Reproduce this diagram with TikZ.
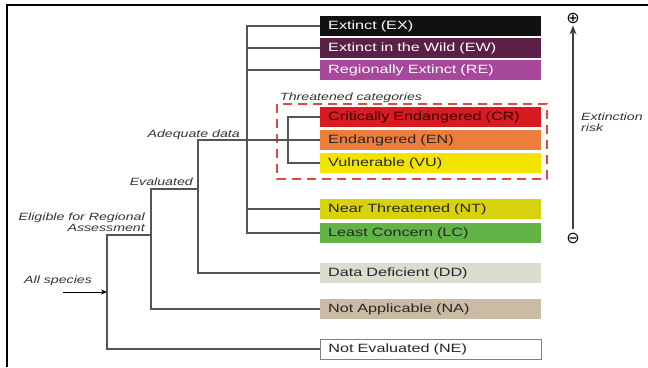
\documentclass[tikz,border=0pt]{standalone}
\usepackage{fontspec}
\setmainfont[FakeStretch=1.35]{Liberation Sans}
\newfontfamily\symfont{DejaVu Sans}
\usetikzlibrary{positioning,arrows.meta}

\definecolor{cEX}{HTML}{111111}
\definecolor{cEW}{HTML}{5B1F48}
\definecolor{cRE}{HTML}{A8489C}
\definecolor{cCR}{HTML}{D81A21}
\definecolor{cEN}{HTML}{EC7D3A}
\definecolor{cVU}{HTML}{F3E400}
\definecolor{cNT}{HTML}{D8D20C}
\definecolor{cLC}{HTML}{63B446}
\definecolor{cDD}{HTML}{DCDCD0}
\definecolor{cNA}{HTML}{CBBBA5}
\definecolor{linegrey}{HTML}{555555}
\definecolor{thrred}{HTML}{E8463C}

\begin{document}
\begin{tikzpicture}[x=1pt,y=-1pt,
cat/.style={anchor=west, minimum height=20pt, text width=205pt, inner xsep=8pt,
    inner ysep=0pt, align=left, text=black!85, font=\fontsize{12}{12}\selectfont},
tree/.style={draw=linegrey, line width=1.1pt},
lab/.style={font=\fontsize{10.5}{11}\selectfont\itshape, text=black!80, inner sep=0pt},
sym/.style={font=\symfont\fontsize{16}{16}\selectfont, inner sep=0pt}
]
\useasboundingbox (0,0) rectangle (648,367);
\draw[line width=1.5pt] (7,367) -- (7,5) -- (648,5);

\node[cat, fill=cEX, text=white] (ex) at (320,26) {Extinct (EX)};
\node[cat, fill=cEW, text=white] (ew) at (320,48) {Extinct in the Wild (EW)};
\node[cat, fill=cRE, text=white] (re) at (320,70) {Regionally Extinct (RE)};
\node[cat, fill=cCR, text=black!80!red] (cr) at (320,117) {Critically Endangered (CR)};
\node[cat, fill=cEN] (en) at (320,140) {Endangered (EN)};
\node[cat, fill=cVU] (vu) at (320,163) {Vulnerable (VU)};
\node[cat, fill=cNT] (nt) at (320,209) {Near Threatened (NT)};
\node[cat, fill=cLC] (lc) at (320,233) {Least Concern (LC)};
\node[cat, fill=cDD] (dd) at (320,273) {Data Deficient (DD)};
\node[cat, fill=cNA] (na) at (320,309) {Not Applicable (NA)};
\node[cat, fill=white, draw=black!50, line width=0.8pt] (ne) at (320,349) {Not Evaluated (NE)};

% threatened group
\draw[thrred, line width=1.1pt, dash pattern=on 9pt off 6pt] (277,104) rectangle (547,179);
\node[lab, anchor=base west] (thr) at (280,100) {Threatened categories};

% branches
\coordinate (trunk) at (247,0);
\coordinate (thrk) at (288,0);
\coordinate (adeq) at (198,0);
\coordinate (evl) at (151,189);
\coordinate (elg) at (107,235);
\draw[tree] (ex.west) -| (trunk |- lc.west) -- (lc.west);
\foreach \n in {ew,re,nt}
    \draw[tree] (\n.west) -- (trunk |- \n.west);
\draw[tree] (cr.west) -| (thrk |- vu.west) -- (vu.west);
\draw[tree] (en.west) -- (adeq |- en.west) |- (dd.west);
\draw[tree] (evl -| adeq) -- (evl) |- (na.west);
\draw[tree] (elg -| evl) -- (elg) |- (ne.west);

\node[lab, anchor=base east] (adl) at (240,137) {Adequate data};
\node[lab, anchor=base east] (evlab) at (193,185) {Evaluated};
\node[lab, anchor=south east, align=right] (elab) at (145,232) {Eligible for Regional\\Assessment};
\node[lab, anchor=base west] (all) at (24,283) {All species};
\coordinate (in) at (63,292);
\draw[line width=1pt, -{Stealth[length=6pt,width=5pt]}] (in) -- (elg |- in);

% extinction risk
\node[sym] (plus) at (573,18) {⊕};
\node[sym] (minus) at (573,238) {⊖};
\draw[draw=black!75, line width=1.1pt, -{Stealth[length=9pt,width=7pt]}] ([yshift=4pt]minus.north) -- ([yshift=-2pt]plus.south);
\node[lab, anchor=north west, align=left] (risk) at (581,113) {Extinction\\risk};
\end{tikzpicture}
\end{document}
